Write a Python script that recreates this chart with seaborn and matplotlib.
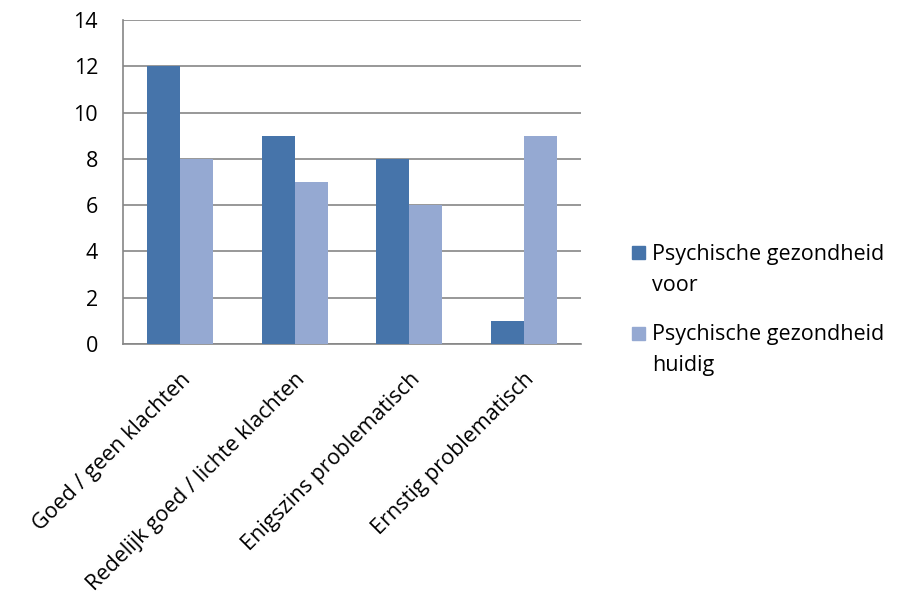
import matplotlib
matplotlib.use("Agg")
import matplotlib.pyplot as plt
from matplotlib.patches import Rectangle
import seaborn as sns
import pandas as pd

# categories and values
categories = ["Goed / geen klachten", "Redelijk goed / lichte klachten",
              "Enigszins problematisch", "Ernstig problematisch"]
series_names = ["Psychische gezondheid\nvoor", "Psychische gezondheid\nhuidig"]
voor = [12, 9, 8, 1]
huidig = [8, 7, 6, 9]
colors = ["#4674AA", "#95A9D2"]

df = pd.DataFrame({
    "cat": categories * 2,
    "serie": [series_names[0]] * 4 + [series_names[1]] * 4,
    "val": voor + huidig,
})

sns.set_style("white")
plt.rcParams['font.family'] = ['Open Sans', 'DejaVu Sans']
plt.rcParams['text.color'] = 'black'
fs = 15.5

W, H = 904, 608
fig = plt.figure(figsize=(W / 100, H / 100), dpi=100)
ax = fig.add_axes([123 / W, 1 - 344 / H, (581 - 123) / W, (344 - 20) / H])

sns.barplot(data=df, x="cat", y="val", hue="serie", palette=colors,
            width=0.58, saturation=1, linewidth=0, ax=ax, zorder=3, legend=False)

ax.set_ylim(0, 14)
ax.set_xlim(-0.5, 3.5)
ax.set_yticks(range(0, 15, 2))
ax.yaxis.grid(True, color="#868686", linewidth=1.2, zorder=0)
ax.set_xlabel("")
ax.set_ylabel("")

for s in ["top", "right"]:
    ax.spines[s].set_visible(False)
for s in ["left", "bottom"]:
    ax.spines[s].set_color("#868686")
    ax.spines[s].set_linewidth(1.2)

ax.tick_params(axis="y", length=7, width=1.2, color="#868686", labelsize=fs,
               labelcolor="black", pad=11)
ax.tick_params(axis="x", which="major", length=0, labelsize=fs,
               labelcolor="black", pad=18)
ax.set_xticks([-0.5, 0.5, 1.5, 2.5, 3.5], minor=True)
ax.tick_params(axis="x", which="minor", length=6, width=1.2, color="#868686")
for lab in ax.get_xticklabels():
    lab.set_rotation(45)
    lab.set_ha("right")
    lab.set_rotation_mode("anchor")

# legend drawn by hand, Excel style (square next to first text line)
leg_y = [253, 333]
for name, col, yc in zip(series_names, colors, leg_y):
    fig.patches.append(Rectangle((632 / W, 1 - (yc + 6.5) / H), 13 / W, 13 / H,
                                 transform=fig.transFigure, color=col))
    fig.text(652 / W, 1 - (yc - 9) / H, name, fontsize=fs, va="top",
             ha="left", linespacing=1.65)

fig.savefig("out.png", dpi=100)
